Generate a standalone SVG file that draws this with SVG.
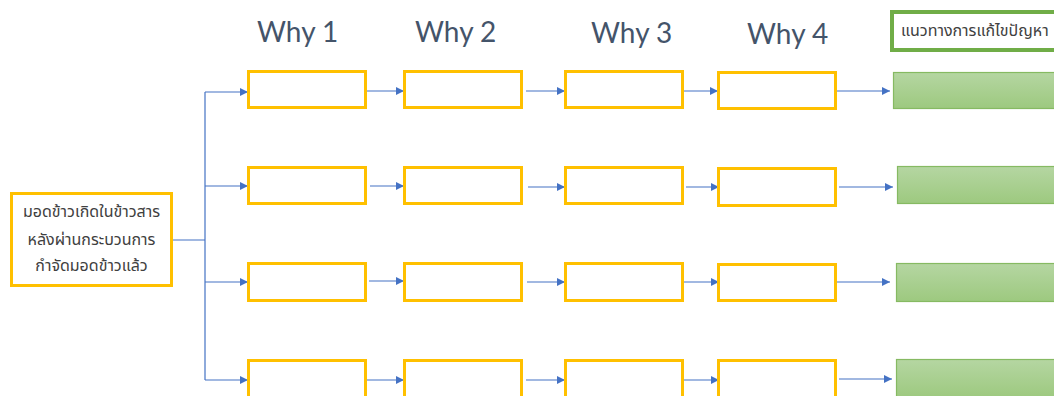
<svg xmlns="http://www.w3.org/2000/svg" width="1054" height="396" viewBox="0 0 1054 396">
<defs>
<style>
.why{fill:#FFFFFF;stroke:#FFC000;stroke-width:3}
.sol{fill:url(#g);stroke:#86BA62;stroke-width:1.2}
.c{fill:none;stroke:#4472C4;stroke-width:1.2}
.h{font-family:Lato,"Open Sans",sans-serif;font-size:28px;fill:#44546A}
.t{font-family:"Noto Sans Thai","Noto Sans","DejaVu Sans",sans-serif;font-size:16px;fill:#404040}
</style>
<linearGradient id="g" x1="0" y1="0" x2="0" y2="1">
<stop offset="0" stop-color="#B5D6A2"/>
<stop offset="1" stop-color="#9DC97F"/>
</linearGradient>
<marker id="a" viewBox="0 0 10 10" refX="10" refY="5" markerWidth="8" markerHeight="8" markerUnits="userSpaceOnUse" orient="auto">
<path d="M0,0 L10,5 L0,10 z" fill="#4472C4"/>
</marker>
</defs>
<rect width="1054" height="396" fill="#FFFFFF"/>

<g id="headers">
<text class="h" x="257" y="42">Why 1</text>
<text class="h" x="415" y="42">Why 2</text>
<text class="h" x="591" y="43">Why 3</text>
<text class="h" x="747" y="44">Why 4</text>
</g>

<g id="header-solution">
<rect x="892" y="12" width="170" height="38" fill="#FFFFFF" stroke="#70AD47" stroke-width="4"/>
<text class="t" x="901" y="36">แนวทางการแก้ไขปัญหา</text>
</g>

<g id="problem">
<rect x="11.5" y="193.5" width="160" height="92" fill="#FFFFFF" stroke="#FFC000" stroke-width="3"/>
<text class="t" x="91.5" y="217" text-anchor="middle">มอดข้าวเกิดในข้าวสาร</text>
<text class="t" x="91.5" y="245" text-anchor="middle">หลังผ่านกระบวนการ</text>
<text class="t" x="91.5" y="271" text-anchor="middle">กำจัดมอดข้าวแล้ว</text>
</g>

<g id="connectors">
<path class="c" d="M173,240 H205 M205,92 V380"/>
<path class="c" marker-end="url(#a)" d="M205,92 H248"/>
<path class="c" marker-end="url(#a)" d="M205,186 H248"/>
<path class="c" marker-end="url(#a)" d="M205,282 H248"/>
<path class="c" marker-end="url(#a)" d="M205,380 H248"/>
<path class="c" marker-end="url(#a)" d="M367,91 H404"/>
<path class="c" marker-end="url(#a)" d="M370,186 H404"/>
<path class="c" marker-end="url(#a)" d="M369,281 H404"/>
<path class="c" marker-end="url(#a)" d="M367,380 H404"/>
<path class="c" marker-end="url(#a)" d="M526,91 H565"/>
<path class="c" marker-end="url(#a)" d="M528,187 H565"/>
<path class="c" marker-end="url(#a)" d="M527,282 H565"/>
<path class="c" marker-end="url(#a)" d="M526,380 H565"/>
<path class="c" marker-end="url(#a)" d="M684,91 H718"/>
<path class="c" marker-end="url(#a)" d="M686,187 H719"/>
<path class="c" marker-end="url(#a)" d="M684,282 H719"/>
<path class="c" marker-end="url(#a)" d="M684,380 H719"/>
<path class="c" marker-end="url(#a)" d="M837,91 H890"/>
<path class="c" marker-end="url(#a)" d="M839,187 H893"/>
<path class="c" marker-end="url(#a)" d="M837,282 H890"/>
<path class="c" marker-end="url(#a)" d="M839,379 H892"/>
</g>

<g id="why1-r1"><rect class="why" x="248.5" y="71.5" width="117" height="36"/></g>
<g id="why1-r2"><rect class="why" x="248.5" y="167.5" width="117" height="36"/></g>
<g id="why1-r3"><rect class="why" x="248.5" y="263.5" width="117" height="37"/></g>
<g id="why1-r4"><rect class="why" x="248.5" y="360.5" width="117" height="38"/></g>

<g id="why2-r1"><rect class="why" x="404.5" y="71.5" width="117" height="36"/></g>
<g id="why2-r2"><rect class="why" x="404.5" y="167.5" width="117" height="36"/></g>
<g id="why2-r3"><rect class="why" x="404.5" y="263.5" width="117" height="37"/></g>
<g id="why2-r4"><rect class="why" x="404.5" y="360.5" width="117" height="38"/></g>

<g id="why3-r1"><rect class="why" x="565.5" y="71.5" width="117" height="36"/></g>
<g id="why3-r2"><rect class="why" x="565.5" y="167.5" width="117" height="36"/></g>
<g id="why3-r3"><rect class="why" x="565.5" y="263.5" width="117" height="37"/></g>
<g id="why3-r4"><rect class="why" x="565.5" y="360.5" width="117" height="38"/></g>

<g id="why4-r1"><rect class="why" x="718.5" y="72.5" width="117" height="36"/></g>
<g id="why4-r2"><rect class="why" x="718.5" y="168.5" width="117" height="37"/></g>
<g id="why4-r3"><rect class="why" x="718.5" y="264.5" width="117" height="36"/></g>
<g id="why4-r4"><rect class="why" x="718.5" y="360.5" width="117" height="38"/></g>

<g id="sol-r1"><rect class="sol" x="893.5" y="72.5" width="170" height="36"/></g>
<g id="sol-r2"><rect class="sol" x="897.5" y="166.5" width="170" height="37"/></g>
<g id="sol-r3"><rect class="sol" x="896.5" y="263.5" width="170" height="38"/></g>
<g id="sol-r4"><rect class="sol" x="896.5" y="359.5" width="170" height="38"/></g>
</svg>
